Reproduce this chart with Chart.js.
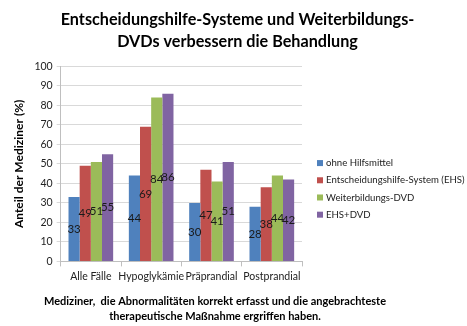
<!DOCTYPE html>
<html><head><meta charset="utf-8">
<script src="https://cdn.jsdelivr.net/npm/chart.js@4"></script>
<style>html,body{margin:0;padding:0;background:#fff}canvas{display:block}</style>
</head><body>
<canvas id="c" width="467" height="326"></canvas>
<script>
const categories = ["Alle Fälle", "Hypoglykämie", "Präprandial", "Postprandial"];
const seriesNames = ["ohne Hilfsmittel", "Entscheidungshilfe-System (EHS)", "Weiterbildungs-DVD", "EHS+DVD"];
const ohneHilfsmittel = [33, 44, 30, 28];
const ehs = [49, 69, 47, 38];
const dvd = [51, 84, 41, 44];
const ehsDvd = [55, 86, 51, 42];
const yTicks = [0, 10, 20, 30, 40, 50, 60, 70, 80, 90, 100];
const titleLines = ["Entscheidungshilfe-Systeme und Weiterbildungs-", "DVDs verbessern die Behandlung"];
const footLines = ["Mediziner,  die Abnormalitäten korrekt erfasst und die angebrachteste", "therapeutische Maßnahme ergriffen haben."];
const yTitle = "Anteil der Mediziner (%)";

const colors = ["#4F81BD", "#C0504D", "#9BBB59", "#8064A2"];
const FONT = "Lato, 'Liberation Sans', sans-serif";

const labelPlugin = {
  id: 'barLabels',
  afterDatasetsDraw(chart) {
    const ctx = chart.ctx;
    ctx.save();
    ctx.font = "11.5px " + FONT;
    ctx.fillStyle = "#1a1a1a";
    ctx.textAlign = "center";
    ctx.textBaseline = "middle";
    chart.data.datasets.forEach((ds, i) => {
      chart.getDatasetMeta(i).data.forEach((bar, j) => {
        const y = (bar.y + bar.base) / 2;
        ctx.fillText(String(ds.data[j]), bar.x, y);
      });
    });
    ctx.restore();
  }
};

const legendPlugin = {
  id: 'sideLegend',
  afterDraw(chart) {
    const ctx = chart.ctx;
    const area = chart.chartArea;
    const x0 = area.right + 15;
    const rowH = 17.2;
    const n = chart.data.datasets.length;
    const yMid = (area.top + area.bottom) / 2 + 25;
    const yStart = yMid - (n - 1) * rowH / 2;
    ctx.save();
    ctx.font = "9.6px " + FONT;
    ctx.textBaseline = "middle";
    ctx.textAlign = "left";
    chart.data.datasets.forEach((ds, i) => {
      const y = yStart + i * rowH;
      ctx.fillStyle = ds.backgroundColor;
      ctx.fillRect(x0, y - 3, 6, 6);
      ctx.fillStyle = "#222";
      ctx.fillText(ds.label, x0 + 9, y);
    });
    ctx.restore();
  }
};

const footPlugin = {
  id: 'footText',
  afterDraw(chart) {
    const ctx = chart.ctx;
    ctx.save();
    ctx.font = "bold 11px " + FONT;
    ctx.fillStyle = "#000";
    ctx.textAlign = "center";
    ctx.textBaseline = "middle";
    footLines.forEach((t, i) => ctx.fillText(t, 215, 301 + i * 15));
    ctx.restore();
  }
};

new Chart(document.getElementById('c'), {
  type: 'bar',
  data: {
    labels: categories,
    datasets: [ohneHilfsmittel, ehs, dvd, ehsDvd].map((d, i) => ({
      label: seriesNames[i],
      data: d,
      backgroundColor: colors[i],
      borderWidth: 0,
      categoryPercentage: 0.74,
      barPercentage: 1.0
    }))
  },
  options: {
    responsive: false,
    animation: false,
    layout: { padding: { left: 8, right: 0, top: 0, bottom: 39 } },
    plugins: {
      title: {
        display: true, text: titleLines, color: "#000",
        font: { family: FONT, size: 16.2, weight: 'bold', lineHeight: 1.4 },
        padding: { top: 8, bottom: 13 }
      },
      legend: { display: false },
      tooltip: { enabled: false }
    },
    scales: {
      x: {
        grid: { display: true, offset: true, drawOnChartArea: false, tickLength: 5, color: "#bfbfbf" },
        border: { color: "#bfbfbf" },
        ticks: { color: "#222", font: { family: FONT, size: 10.5 }, padding: 4, maxRotation: 0, autoSkip: false }
      },
      y: {
        min: 0, max: 100,
        afterBuildTicks(axis) { axis.ticks = yTicks.map(v => ({ value: v })); },
        grid: { color: "#d9d9d9", tickLength: 4 },
        border: { color: "#bfbfbf" },
        ticks: { color: "#222", font: { family: FONT, size: 10.5 }, padding: 4 },
        title: { display: true, text: yTitle, color: "#000", font: { family: FONT, size: 12, weight: 'bold' }, padding: 4 }
      },
      legendSpace: {
        type: 'linear', position: 'right', display: true,
        grid: { display: false, drawOnChartArea: false },
        border: { display: false },
        ticks: { display: false },
        afterFit(scale) { scale.width = 165; }
      }
    }
  },
  plugins: [labelPlugin, legendPlugin, footPlugin]
});
</script>
</body></html>
